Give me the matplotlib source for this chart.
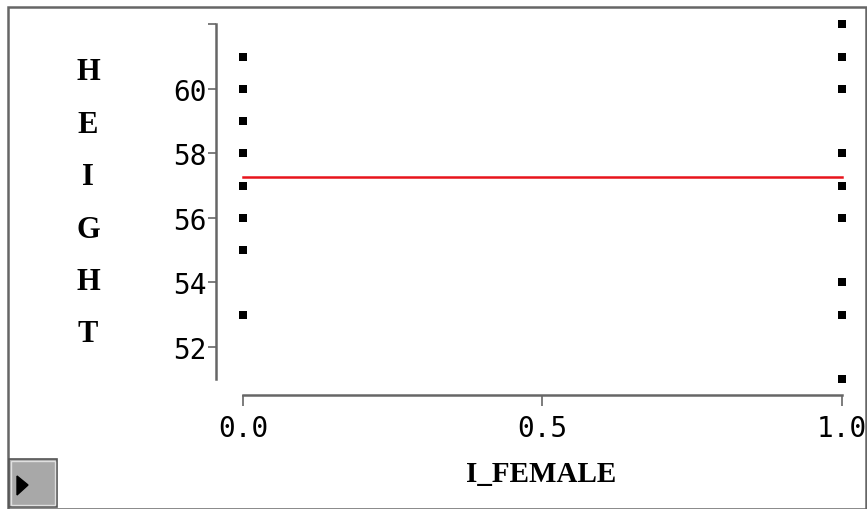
import matplotlib
matplotlib.use("Agg")
import matplotlib.pyplot as plt
from matplotlib.patches import Rectangle, Polygon

# data
female_0_height = [61, 60, 59, 58, 57, 56, 55, 53]
female_1_height = [62, 61, 60, 58, 57, 56, 54, 53, 51]
mean_height = 57.26
x_ticks = [0.0, 0.5, 1.0]
y_ticks = [52, 54, 56, 58, 60, 62]
y_tick_labels = ["52", "54", "56", "58", "60", ""]

W, H = 867, 510
fig = plt.figure(figsize=(W / 100, H / 100), dpi=100)
ax = fig.add_axes([216 / W, (H - 396) / H, 644 / W, 376 / H])

axis_grey = "#666666"
ax.scatter([0] * len(female_0_height), female_0_height, marker="s", s=26,
           color="black", linewidths=0, zorder=3)
ax.scatter([1] * len(female_1_height), female_1_height, marker="s", s=26,
           color="black", linewidths=0, zorder=3)
ax.plot([0, 1], [mean_height, mean_height], color="#e8141c", lw=1.8, zorder=2)

ax.set_xlim(-0.045, 1.03)
ax.set_ylim(50.51, 62.17)
for side in ["top", "right"]:
    ax.spines[side].set_visible(False)
ax.spines["left"].set_bounds(51, 62)
ax.spines["bottom"].set_bounds(0, 1)
for side in ["left", "bottom"]:
    ax.spines[side].set_color(axis_grey)
    ax.spines[side].set_linewidth(1.8)

mono = "DejaVu Sans Mono"
ax.set_yticks(y_ticks)
ax.set_yticklabels(y_tick_labels, family=mono, fontsize=20, weight="light")
ax.set_xticks(x_ticks)
ax.set_xticklabels([f"{v:.1f}" for v in x_ticks], family=mono, fontsize=20, weight="light")
ax.tick_params(axis="y", direction="out", length=6, width=1.2, color=axis_grey, pad=1)
ax.tick_params(axis="x", direction="out", length=8, width=1.2, color=axis_grey, pad=6)

# stacked y label
serif = "Liberation Serif"
for i, ch in enumerate("HEIGHT"):
    fig.text(88 / W, 1 - (73 + i * 52.4) / H, ch, family=serif, weight="bold",
             fontsize=22, ha="center", va="center")
fig.text(541 / W, 1 - 475 / H, "I_FEMALE", family=serif, weight="bold",
         fontsize=21, ha="center", va="center")

# outer frame
fig.patches.append(Rectangle((8 / W, 0), 858 / W, (H - 8) / H, transform=fig.transFigure,
                             fill=False, edgecolor=axis_grey, lw=1.8))

# play button bottom left
bx0, by0, bw, bh = 9, H - 508, 48, 48
fig.patches.append(Rectangle((bx0 / W, by0 / H), bw / W, bh / H, transform=fig.transFigure,
                             facecolor="#a8a8a8", edgecolor="#555555", lw=1.2))
fig.patches.append(Rectangle(((bx0 + 2) / W, (by0 + 2) / H), (bw - 4) / W, (bh - 4) / H,
                             transform=fig.transFigure, fill=False,
                             edgecolor="#e0e0e0", lw=1.0))
tri = [(17, H - 477), (17, H - 496), (28, H - 486)]
fig.patches.append(Polygon([(x / W, y / H) for x, y in tri], closed=True,
                           transform=fig.transFigure, facecolor="black", edgecolor="black"))

fig.savefig("out.png", dpi=100)
